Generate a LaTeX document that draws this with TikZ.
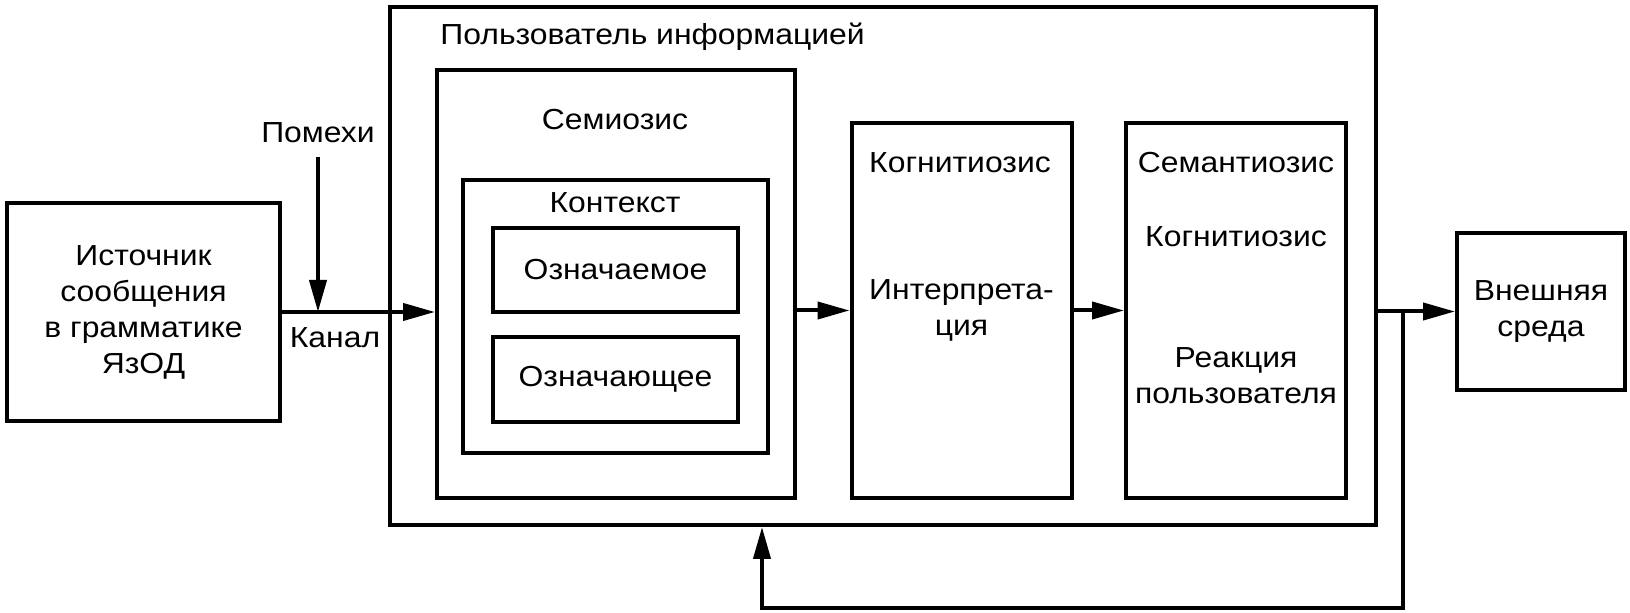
\documentclass[tikz,border=0pt]{standalone}
\usepackage{fontspec}
\setmainfont{Liberation Sans}[FakeStretch=1.1]
\usetikzlibrary{calc}
\usetikzlibrary{arrows.meta}
\def\unitpx{0.5pt}
\tikzset{
  txt/.style = {font=\fontsize{14.5}{18}\selectfont, align=center, inner sep=0pt},
  block/.style 2 args = {draw=black, line width=2pt, minimum width=#1*\unitpx, minimum height=#2*\unitpx, txt},
  vec/.style = {color=black, line width=2pt, -{Triangle[length=16pt, width=8.5pt]}},
  link/.style = {color=black, line width=2pt}
}

\begin{document}
\begin{tikzpicture}[x=0.5pt, y=-0.5pt]

    % Frame
    \useasboundingbox (0,0) rectangle (1630,613);

    % Coordinates
    \coordinate (noisetop) at (318,157);
    \coordinate (fbA) at (1403,311.5);
    \coordinate (fbB) at (1403,608);
    \coordinate (fbC) at (762,608);

    % Blocks
    \node[block={273}{218}] (src) at (143.5,312) {Источник\\сообщения\\в грамматике\\ЯзОД};
    \node[block={986}{518}] (user) at (883,266) {};
    \node[block={358}{428}] (semio) at (616,284) {};
    \node[block={305}{273}] (ctx) at (615.5,316.5) {};
    \node[block={245}{84}] (signified) at (615.5,270) {Означаемое};
    \node[block={245}{85}] (signifier) at (615.5,379.5) {Означающее};
    \node[block={220}{375}] (cogn) at (961.5,310.5) {Интерпрета-\\ция};
    \node[block={220}{375}] (sem) at (1236,310.5) {};
    \node[block={168}{157}] (env) at (1541,311.5) {Внешняя\\среда};

    % Labels
    \node[txt] (noise) at (318,133) {Помехи};
    \node[txt] (channel) at (335,338) {Канал};
    \node[txt, anchor=west] (userlabel) at (440,37) {Пользователь информацией};
    \node[txt] (semiolabel) at (615,120) {Семиозис};
    \node[txt] (ctxlabel) at (615,203) {Контекст};
    \node[txt] (cognlabel) at (960,163) {Когнитиозис};
    \node[txt] (semlabel) at (1236,163) {Семантиозис};
    \node[txt] (semcogn) at (1236,237) {Когнитиозис};
    \node[txt] (reaction) at (1236,376) {Реакция\\пользователя};

    % Signal flow
    \draw[vec] (src.east) -- (src.east -| semio.west);
    \draw[vec] (noisetop) -- (noisetop |- src.east);
    \draw[vec] (semio.east |- cogn.west) -- (cogn.west);
    \draw[vec] (cogn.east) -- (sem.west);
    \draw[vec] (user.east |- env.west) -- (env.west);

    % Feedback
    \draw[vec] (fbA) -- (fbB) -- (fbC) -- (fbC |- user.south);

\end{tikzpicture}
\end{document}
